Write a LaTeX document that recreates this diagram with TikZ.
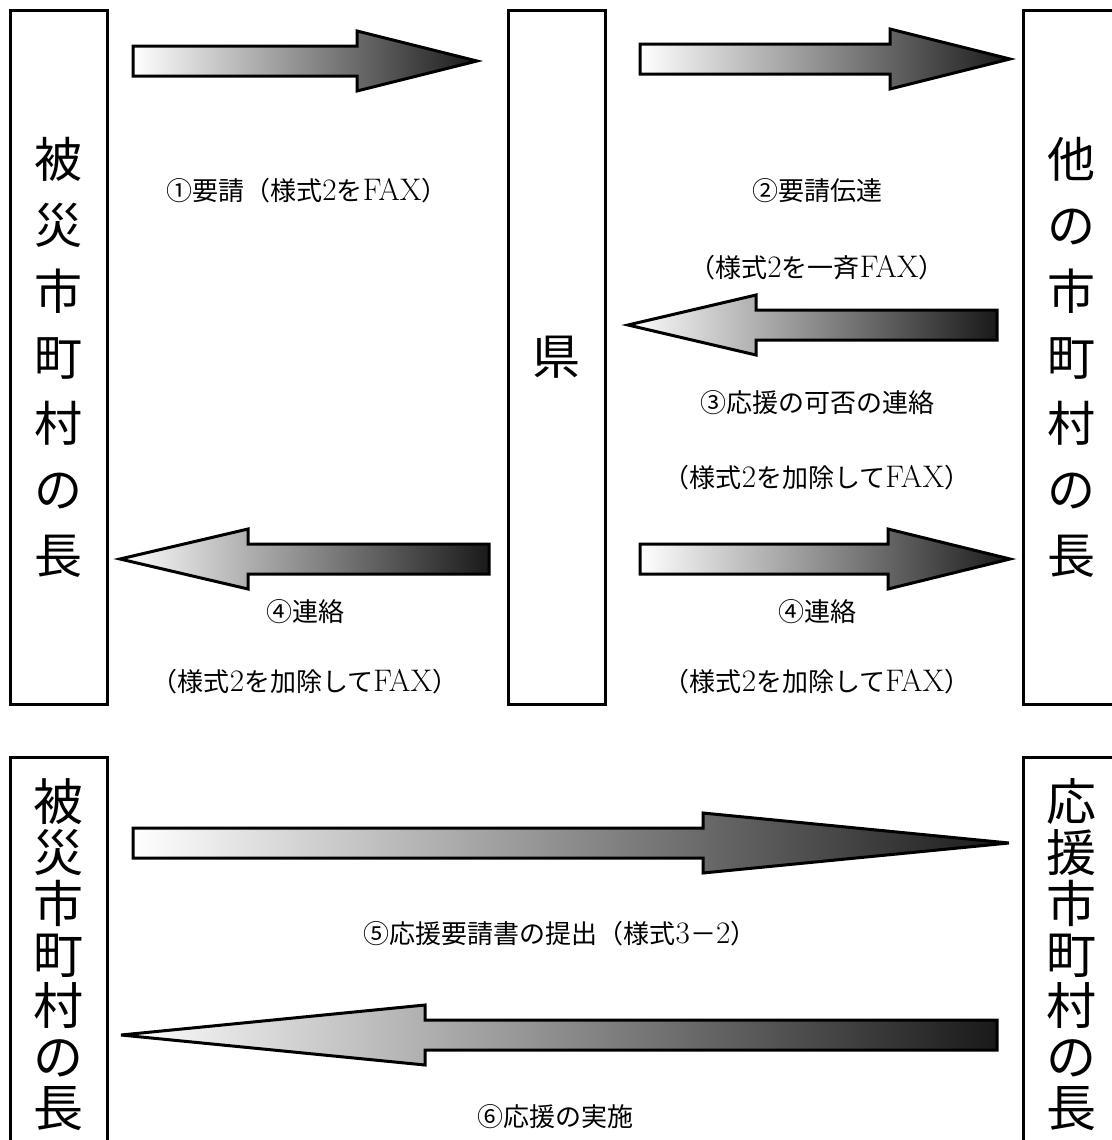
\documentclass[tikz,border=0pt]{standalone}
\usepackage{fontspec}
\setmainfont{Noto Sans CJK JP}
\newfontfamily\lat[Scale=1.2]{Latin Modern Roman}
\usetikzlibrary{calc}

% block arrow from (#1s) over (#1h) to (#1e)
\newcommand{\barrow}[1]{%
  \draw[barrow] ($(#1s)+(0,-15)$) -- ($(#1h)+(0,-15)$) -- ($(#1h)+(0,-30)$) -- (#1e)
    -- ($(#1h)+(0,30)$) -- ($(#1h)+(0,15)$) -- ($(#1s)+(0,15)$) -- cycle;}

\begin{document}
\begin{tikzpicture}[x=0.5pt, y=-0.5pt,
    box/.style={draw, line width=1.5pt, minimum width=48.5pt, inner sep=0pt},
    vtxt/.style={align=center, font=\fontsize{24}{33}\selectfont},
    vtight/.style={align=center, font=\fontsize{25}{25.5}\selectfont},
    lab/.style={font=\fontsize{13}{15}\selectfont},
    barrow/.style={draw, line width=1.5pt, line join=miter, left color=white, right color=black!90}]
	\useasboundingbox (0,0) rectangle (1112,1140);

	% upper part
	\node[box, vtxt, minimum height=347pt] (hisai) at (58.5,357) {被\\災\\市\\町\\村\\の\\長};
	\node[box, vtxt, minimum height=347pt] (ken) at (556.5,357) {県};
	\node[box, vtxt, minimum height=347pt] (hoka) at (1071.5,357) {他\\の\\市\\町\\村\\の\\長};

	\coordinate (a1s) at (133,61);  \coordinate (a1h) at (357,61);  \coordinate (a1e) at (477,61);
	\coordinate (a2s) at (640,59);  \coordinate (a2h) at (890,59);  \coordinate (a2e) at (1010,59);
	\coordinate (a3s) at (997,325); \coordinate (a3h) at (756,325); \coordinate (a3e) at (628,325);
	\coordinate (a4s) at (489,559); \coordinate (a4h) at (248,559); \coordinate (a4e) at (120,559);
	\coordinate (a5s) at (640,559); \coordinate (a5h) at (888,559); \coordinate (a5e) at (1010,559);
	\barrow{a1} \barrow{a2} \barrow{a3} \barrow{a4} \barrow{a5}

	\node[lab] (l1) at (307,191) {①要請（様式{\lat 2}を{\lat FAX}）};
	\node[lab] (l2) at (817,191) {②要請伝達};
	\node[lab] (l3) at (817,268) {（様式{\lat 2}を一斉{\lat FAX}）};
	\node[lab] (l4) at (817,403) {③応援の可否の連絡};
	\node[lab] (l5) at (817,478) {（様式{\lat 2}を加除して{\lat FAX}）};
	\node[lab] (l6) at (305,612) {④連絡};
	\node[lab] (l7) at (305,682) {（様式{\lat 2}を加除して{\lat FAX}）};
	\node[lab] (l8) at (817,612) {④連絡};
	\node[lab] (l9) at (817,682) {（様式{\lat 2}を加除して{\lat FAX}）};

	% lower part
	\node[box, vtight, minimum height=208pt] (hisai2) at (58.5,965) {};
	\node[vtight] (hisai2t) at (58.5,955) {被\\災\\市\\町\\村\\の\\長};
	\node[box, vtight, minimum height=208pt] (oen) at (1071.5,965) {};
	\node[vtight] (oent) at (1071.5,955) {応\\援\\市\\町\\村\\の\\長};

	\coordinate (a6s) at (133,843);  \coordinate (a6h) at (703,843); \coordinate (a6e) at (1009,843);
	\coordinate (a7s) at (997,1035); \coordinate (a7h) at (425,1035); \coordinate (a7e) at (121,1035);
	\barrow{a6} \barrow{a7}

	\node[lab] (l10) at (560,934) {⑤応援要請書の提出（様式{\lat 3}－{\lat 2}）};
	\node[lab] (l11) at (555,1117) {⑥応援の実施};
\end{tikzpicture}
\end{document}
